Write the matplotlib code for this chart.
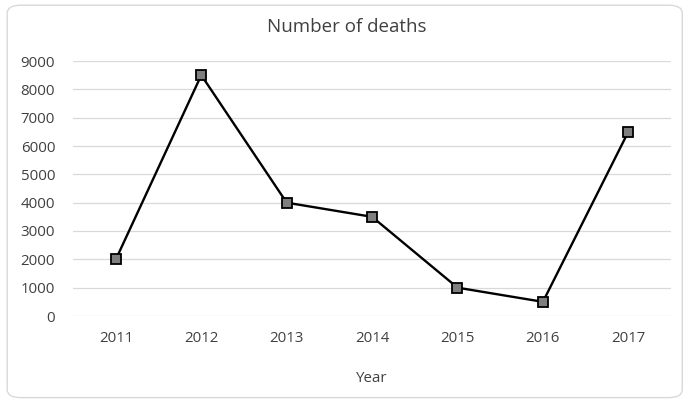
import matplotlib.pyplot as plt
from matplotlib.patches import FancyBboxPatch

years = ["2011", "2012", "2013", "2014", "2015", "2016", "2017"]
deaths = [2000, 8500, 4000, 3500, 1000, 500, 6500]
yticks = [0, 1000, 2000, 3000, 4000, 5000, 6000, 7000, 8000, 9000]

plt.rcParams['font.family'] = ['Open Sans', 'DejaVu Sans']
txt = "#404040"

fig = plt.figure(figsize=(6.84, 4.0), dpi=100)
ax = fig.add_axes([0.107, 0.21, 0.874, 0.6375])

# chart border
border = FancyBboxPatch((0.0105, 0.006), 0.987, 0.981,
                        boxstyle="round,pad=0,rounding_size=0.02",
                        transform=fig.transFigure, fill=False,
                        edgecolor="#d9d9d9", linewidth=1.0)
fig.patches.append(border)

x = list(range(len(years)))
ax.plot(x, deaths, color="black", linewidth=1.7, marker="s",
        markersize=7, markerfacecolor="#7f7f7f", markeredgecolor="black",
        markeredgewidth=1.3, zorder=3)

ax.set_xlim(-0.5, len(years) - 0.5)
ax.set_ylim(0, 9000)
ax.set_yticks(yticks)
ax.set_xticks(x)
ax.set_xticklabels(years)
ax.grid(axis="y", color="#d9d9d9", linewidth=0.9)
ax.set_axisbelow(True)
for s in ax.spines.values():
    s.set_visible(False)
ax.tick_params(length=0, labelsize=10.8, colors=txt)
ax.tick_params(axis="x", pad=11)
ax.tick_params(axis="y", pad=13)

fig.text(0.507, 0.9325, "Number of deaths", fontsize=13.5, color=txt,
         ha="center", va="center")
fig.text(0.544, 0.055, "Year", fontsize=10.8, color=txt,
         ha="center", va="center")

fig.savefig("out.png", dpi=100)
